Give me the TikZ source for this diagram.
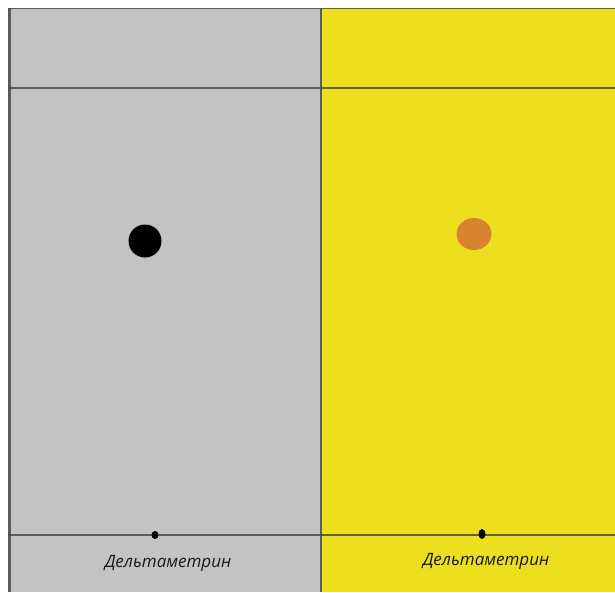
\documentclass[tikz,border=0pt]{standalone}
\usepackage{fontspec}
\setmainfont{Open Sans}
\definecolor{panelgray}{HTML}{C3C3C3}
\definecolor{panelyellow}{HTML}{EDDE1E}
\definecolor{spotorange}{HTML}{D9822F}
\definecolor{lineclr}{HTML}{4A4A4A}
\tikzset{
  gridline/.style={draw=lineclr, line width=1.8pt, opacity=0.85},
  bigspot/.style={circle, inner sep=0pt, minimum size=33pt},
  smallspot/.style={ellipse, fill=black, inner sep=0pt, minimum width=7pt, minimum height=8pt},
  lbl/.style={font=\itshape\fontsize{17}{19}\selectfont, text=black!90}
}
\usetikzlibrary{shapes.geometric}
\begin{document}
\begin{tikzpicture}[x=1pt,y=-1pt]
\useasboundingbox (0,0) rectangle (615,592);
\fill[white] (0,0) rectangle (615,592);
\fill[panelgray] (8,8) rectangle (321,592);
\fill[panelyellow] (321,8) rectangle (615,592);
% frame lines
\draw[gridline] (8,8.5) -- (615,8.5);
\draw[gridline, line width=3pt] (9,8) -- (9,592);
\draw[gridline] (321,8) -- (321,592);
\draw[gridline] (8,88) -- (615,88);
\draw[gridline] (8,535) -- (615,535);
% spots
\node[bigspot, fill=black] (s1) at (145,241) {};
\node[bigspot, fill=spotorange, minimum width=35pt, minimum height=32pt, ellipse] (s2) at (474,234) {};
\node[smallspot] (o1) at (155,535) {};
\node[smallspot, minimum height=10pt] (o2) at (482,534) {};
% labels
\node[lbl] (l1) at (168,563) {Дельтаметрин};
\node[lbl] (l2) at (486,561) {Дельтаметрин};
\end{tikzpicture}
\end{document}
